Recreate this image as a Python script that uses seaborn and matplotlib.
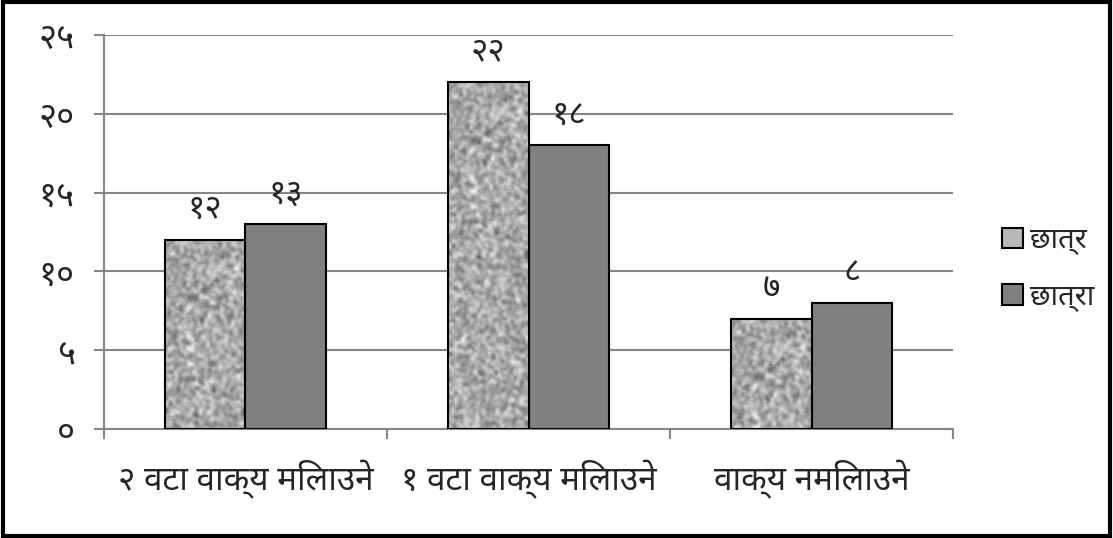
import numpy as np
import pandas as pd
import matplotlib
matplotlib.use('Agg')
import matplotlib.pyplot as plt
import seaborn as sb
from matplotlib.patches import Patch

# data
categories = ['२ वटा वाक्य मिलाउने', '१ वटा वाक्य मिलाउने', 'वाक्य नमिलाउने']
series = ['छात्र', 'छात्रा']
chhatra = [12, 22, 7]
chhatri = [13, 18, 8]
label_chhatra = ['१२', '२२', '७']
label_chhatri = ['१३', '१८', '८']
yticks = [0, 5, 10, 15, 20, 25]
ytick_labels = ['०', '५', '१०', '१५', '२०', '२५']

df = pd.DataFrame({
    'category': categories * 2,
    'group': [series[0]] * 3 + [series[1]] * 3,
    'value': chhatra + chhatri,
})

sb.set_style('white')
plt.rcParams['font.family'] = ['Noto Sans Devanagari', 'Lohit Devanagari', 'Mangal', 'Noto Sans', 'DejaVu Sans']

fig = plt.figure(figsize=(11.13, 5.38), dpi=100)
ax = fig.add_axes([0.0934, 0.2026, 0.7629, 0.7324])

sb.barplot(data=df, x='category', y='value', hue='group', palette=['#b0b0b0', '#808080'],
           width=0.572, gap=0, edgecolor='black', linewidth=1.5, legend=False, ax=ax, zorder=3)

# grainy texture for the first series (style only, not data)
rng = np.random.default_rng(3)
h, w = 220, 55
noise = rng.random((h, w))
pad = np.pad(noise, 1, mode='wrap')
smooth = sum(pad[i:i + h, j:j + w] for i in range(3) for j in range(3)) / 9
smooth = (smooth - smooth.min()) / (smooth.max() - smooth.min())
for p in ax.containers[0]:
    x0, y0 = p.get_x(), p.get_y()
    rows = int(h * p.get_height() / 22) or 1
    im = ax.imshow(smooth[:rows], cmap='gray', vmin=-0.55, vmax=1.05, aspect='auto',
                   extent=[x0, x0 + p.get_width(), y0, y0 + p.get_height()],
                   zorder=3.5, interpolation='bicubic')
    im.set_clip_path(p)
    p.set_zorder(4)
    p.set_facecolor('none')

ax.bar_label(ax.containers[0], labels=label_chhatra, padding=10, fontsize=24)
ax.bar_label(ax.containers[1], labels=label_chhatri, padding=10, fontsize=24)

ax.set_ylim(0, 25)
ax.set_xlim(-0.5, 2.5)
ax.set_yticks(yticks)
ax.set_yticklabels(ytick_labels, fontsize=25)
ax.yaxis.grid(True, color='#868686', linewidth=1.5, zorder=0)
ax.set_axisbelow(True)
ax.set_xticks([0, 1, 2])
ax.set_xticklabels(categories, fontsize=24)
ax.set_xticks([-0.5, 0.5, 1.5, 2.5], minor=True)
ax.tick_params(axis='x', which='major', length=0, pad=22)
ax.tick_params(axis='x', which='minor', length=7, width=1.5, color='#868686', direction='out', bottom=True)
ax.tick_params(axis='y', length=7, width=1.5, color='#868686', direction='out', left=True, pad=14)
ax.set_xlabel('')
ax.set_ylabel('')
for s in ['top', 'right']:
    ax.spines[s].set_visible(False)
for s in ['left', 'bottom']:
    ax.spines[s].set_color('#868686')
    ax.spines[s].set_linewidth(1.5)

# legend
handles = [Patch(facecolor='#b8b8b8', edgecolor='black', linewidth=1.5),
           Patch(facecolor='#808080', edgecolor='black', linewidth=1.5)]
fig.legend(handles, series, loc='center left', bbox_to_anchor=(0.877, 0.5), frameon=False,
           fontsize=21, handlelength=0.7, handleheight=0.7, handletextpad=0.25, labelspacing=0.95)

# outer frame
fig.add_artist(plt.Rectangle((0.003, 0.004), 0.994, 0.992, transform=fig.transFigure,
                             fill=False, edgecolor='black', linewidth=3))

fig.savefig('out.png', dpi=100)
